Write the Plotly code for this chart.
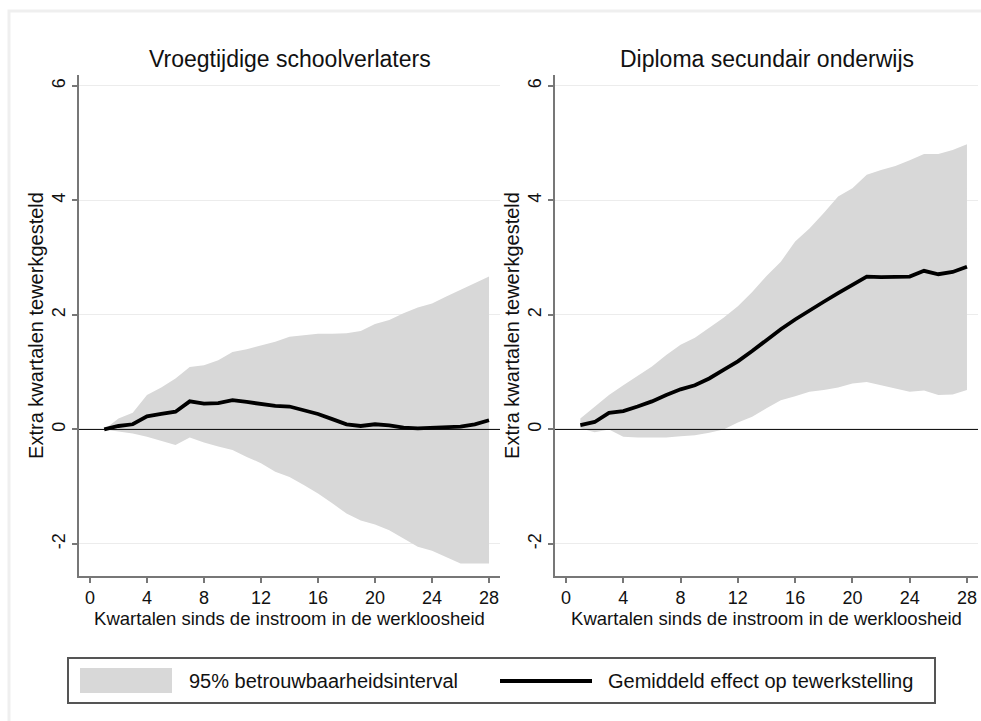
import plotly.graph_objects as go

quarters = list(range(1, 29))

# Panel 1: Vroegtijdige schoolverlaters
left_mean = [0.00, 0.06, 0.09, 0.23, 0.27, 0.31, 0.49, 0.45, 0.46, 0.51, 0.48, 0.45, 0.41, 0.40,
             0.34, 0.27, 0.18, 0.09, 0.06, 0.09, 0.07, 0.03, 0.02, 0.03, 0.04, 0.05, 0.09, 0.16]
left_upper = [0.00, 0.19, 0.29, 0.60, 0.73, 0.89, 1.09, 1.12, 1.21, 1.35, 1.40, 1.46, 1.53, 1.62,
              1.65, 1.67, 1.67, 1.68, 1.72, 1.84, 1.91, 2.03, 2.13, 2.20, 2.32, 2.44, 2.55, 2.67]
left_lower = [0.00, -0.04, -0.07, -0.13, -0.20, -0.27, -0.14, -0.23, -0.30, -0.36, -0.48, -0.59, -0.74, -0.83,
              -0.97, -1.12, -1.29, -1.47, -1.59, -1.66, -1.76, -1.91, -2.05, -2.12, -2.23, -2.34, -2.34, -2.34]

# Panel 2: Diploma secundair onderwijs
right_mean = [0.075, 0.13, 0.29, 0.32, 0.40, 0.49, 0.60, 0.70, 0.77, 0.89, 1.04, 1.19, 1.37, 1.57,
              1.75, 1.92, 2.08, 2.23, 2.38, 2.52, 2.67, 2.66, 2.66, 2.67, 2.77, 2.71, 2.75, 2.84]
right_upper = [0.19, 0.40, 0.60, 0.77, 0.93, 1.10, 1.30, 1.48, 1.60, 1.77, 1.95, 2.15, 2.40, 2.68,
               2.93, 3.28, 3.51, 3.78, 4.07, 4.21, 4.45, 4.53, 4.60, 4.70, 4.81, 4.81, 4.88, 4.98]
right_lower = [0.02, -0.05, 0.00, -0.13, -0.14, -0.14, -0.14, -0.12, -0.10, -0.06, 0.00, 0.12, 0.22, 0.37,
               0.51, 0.58, 0.66, 0.69, 0.73, 0.80, 0.83, 0.77, 0.72, 0.66, 0.68, 0.60, 0.61, 0.69]

panel_titles = ["Vroegtijdige schoolverlaters", "Diploma secundair onderwijs"]
x_ticks = [0, 4, 8, 12, 16, 20, 24, 28]
y_ticks = [-2, 0, 2, 4, 6]
y_tick_labels = ["-2", "0", "2", "4", "6"]
x_title = "Kwartalen sinds de instroom in de werkloosheid"
y_title = "Extra kwartalen tewerkgesteld"
legend_labels = ["95% betrouwbaarheidsinterval", "Gemiddeld effect op tewerkstelling"]

FONT = "Arial, Liberation Sans, sans-serif"
FILL = "rgb(216,216,216)"
TXT = "#111111"
W, H = 981, 721
ML, MR, MT, MB = 79, 3, 75, 145
PW, PH = W - ML - MR, H - MT - MB


def px(x):
    return (x - ML) / PW


def py(y):
    return (H - MB - y) / PH


fig = go.Figure()
panels = [(left_mean, left_upper, left_lower), (right_mean, right_upper, right_lower)]
for i, (m, up, lo) in enumerate(panels):
    xa = "x" if i == 0 else "x2"
    ya = "y" if i == 0 else "y2"
    fig.add_trace(go.Scatter(x=quarters, y=lo, mode="lines", line=dict(width=0, color=FILL),
                             xaxis=xa, yaxis=ya, showlegend=False, hoverinfo="skip"))
    fig.add_trace(go.Scatter(x=quarters, y=up, mode="lines", line=dict(width=0, color=FILL),
                             fill="tonexty", fillcolor=FILL, xaxis=xa, yaxis=ya, showlegend=False))
    fig.add_trace(go.Scatter(x=quarters, y=m, mode="lines", line=dict(width=3.8, color="black"),
                             xaxis=xa, yaxis=ya, showlegend=False))

axis_common = dict(showline=True, linecolor="#777777", linewidth=1.5, ticks="outside", ticklen=5,
                   tickcolor="#777777", tickwidth=1.5, tickfont=dict(family=FONT, size=18, color=TXT),
                   zeroline=False)
x_dom = [[0, px(500)], [px(555), 1]]
for i in range(2):
    sfx = "" if i == 0 else "2"
    fig.update_layout(**{
        f"xaxis{sfx}": dict(axis_common, domain=x_dom[i], range=[-0.77, 28.77], tickvals=x_ticks,
                            showgrid=False, anchor=f"y{sfx}",
                            title=dict(text=x_title, font=dict(family=FONT, size=18.5, color=TXT), standoff=0)),
        f"yaxis{sfx}": dict(axis_common, domain=[0, 1], range=[-2.56, 6.19], tickvals=y_ticks,
                            ticktext=y_tick_labels, tickangle=-90,
                            showgrid=True, gridcolor="#ececec", gridwidth=1, anchor=f"x{sfx}",
                            title=dict(text=y_title, font=dict(family=FONT, size=20, color=TXT), standoff=0)),
    })

shapes = []
annotations = []
for i in range(2):
    sfx = "" if i == 0 else "2"
    shapes.append(dict(type="line", xref=f"x{sfx} domain", yref=f"y{sfx}", x0=0, x1=1, y0=0, y1=0,
                       line=dict(color="black", width=1), layer="above"))
    annotations.append(dict(text=panel_titles[i], xref="paper", yref="paper",
                            x=(x_dom[i][0] + x_dom[i][1]) / 2, y=py(59), xanchor="center", yanchor="middle",
                            showarrow=False, font=dict(family=FONT, size=23, color=TXT)))

# outer frame
shapes.append(dict(type="rect", xref="paper", yref="paper", x0=px(9), x1=px(990), y0=py(11), y1=py(740),
                   line=dict(color="#efefef", width=3), layer="below"))
# legend
shapes.append(dict(type="rect", xref="paper", yref="paper", x0=px(68), x1=px(935), y0=py(658), y1=py(703),
                   line=dict(color="#555555", width=2), fillcolor="white"))
shapes.append(dict(type="rect", xref="paper", yref="paper", x0=px(80), x1=px(172), y0=py(668), y1=py(693),
                   line=dict(width=0), fillcolor=FILL))
shapes.append(dict(type="line", xref="paper", yref="paper", x0=px(500), x1=px(592), y0=py(681), y1=py(681),
                   line=dict(color="black", width=4)))
annotations.append(dict(text=legend_labels[0], xref="paper", yref="paper", x=px(187), y=py(681),
                        xanchor="left", yanchor="middle", showarrow=False,
                        font=dict(family=FONT, size=20, color=TXT)))
annotations.append(dict(text=legend_labels[1], xref="paper", yref="paper", x=px(606), y=py(681),
                        xanchor="left", yanchor="middle", showarrow=False,
                        font=dict(family=FONT, size=20, color=TXT)))

fig.update_layout(width=W, height=H, margin=dict(l=ML, r=MR, t=MT, b=MB, pad=0),
                  paper_bgcolor="white", plot_bgcolor="white", showlegend=False,
                  shapes=shapes, annotations=annotations, font=dict(family=FONT))
fig.write_html("out.html", config={"displayModeBar": False})

with open("out.html", "r", encoding="utf-8") as f:
    html = f.read()
html = html.replace("<head>", "<head><style>html,body{margin:0;padding:0;overflow:hidden;}</style>", 1)
with open("out.html", "w", encoding="utf-8") as f:
    f.write(html)
